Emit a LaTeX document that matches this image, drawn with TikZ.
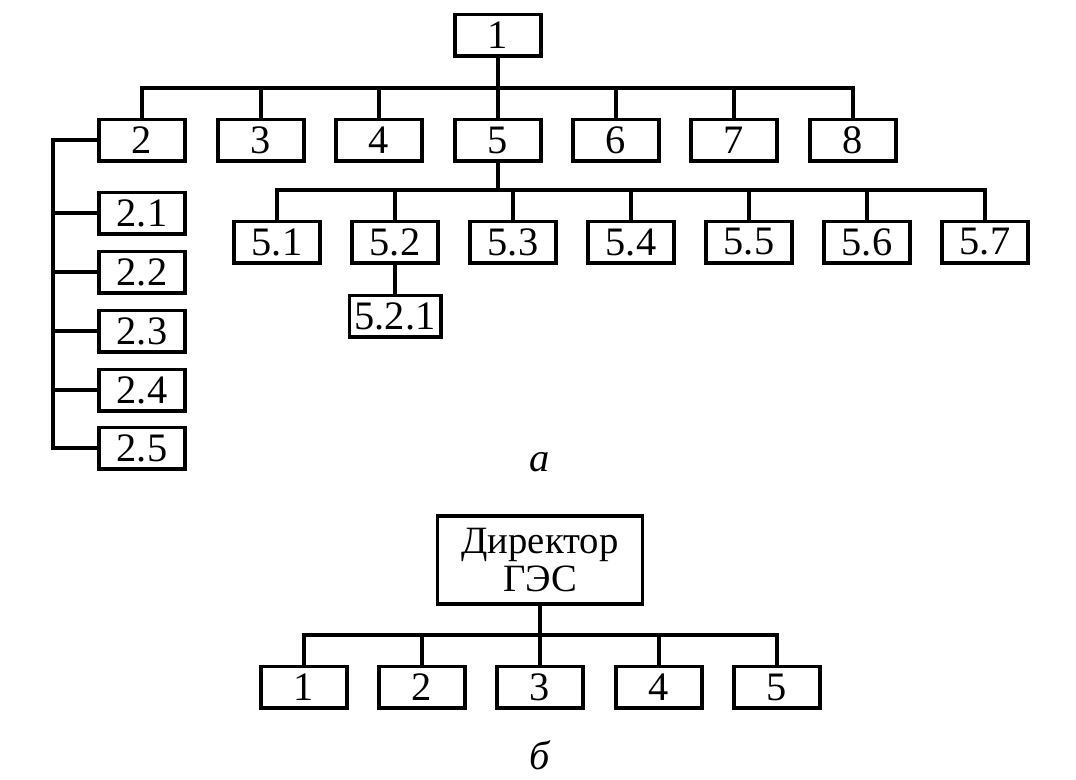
\documentclass[tikz,border=0pt]{standalone}
\usepackage{fontspec}
\setmainfont{Liberation Serif}
\tikzset{blk/.style={draw, line width=2pt, minimum width=1.73cm, minimum height=0.83cm, inner sep=0pt, font=\fontsize{23}{27}\selectfont}}
\begin{document}
\begin{tikzpicture}[x=0.02cm, y=-0.02cm, line width=2pt]
	\useasboundingbox (0,0) rectangle (1076,779);
	\node[blk] (n1) at (498,35) {1};
	\node[blk] (n2) at (142,140) {2};
	\node[blk] (n3) at (261,140) {3};
	\node[blk] (n4) at (379,140) {4};
	\node[blk] (n5) at (498,140) {5};
	\node[blk] (n6) at (616,140) {6};
	\node[blk] (n7) at (734,140) {7};
	\node[blk] (n8) at (853,140) {8};
	\node[blk] (n21) at (142,213) {2.1};
	\node[blk] (n22) at (142,272) {2.2};
	\node[blk] (n23) at (142,331) {2.3};
	\node[blk] (n24) at (142,390) {2.4};
	\node[blk] (n25) at (142,448) {2.5};
	\node[blk] (n51) at (277,242) {5.1};
	\node[blk] (n52) at (395,242) {5.2};
	\node[blk] (n53) at (513,242) {5.3};
	\node[blk] (n54) at (631,242) {5.4};
	\node[blk] (n55) at (749,242) {5.5};
	\node[blk] (n56) at (867,242) {5.6};
	\node[blk] (n57) at (985,242) {5.7};
	\node[blk, minimum width=1.83cm] (n521) at (395,316) {5.2.1};
	\node (la) at (540,462) {\fontsize{23}{27}\selectfont\textit{а}};
	\coordinate (b1) at (498,88);
	\coordinate (b5) at (498,190);
	\coordinate (c2) at (53,140);
	\draw (n1.south) -- (n5.north);
	\draw (n2.north) |- (b1) -| (n8.north);
	\draw (n3.north) -- (n3.north |- b1);
	\draw (n4.north) -- (n4.north |- b1);
	\draw (n6.north) -- (n6.north |- b1);
	\draw (n7.north) -- (n7.north |- b1);
	\draw (n5.south) -- (b5);
	\draw (n51.north) |- (b5) -| (n57.north);
	\draw (n52.north) -- (n52.north |- b5);
	\draw (n53.north) -- (n53.north |- b5);
	\draw (n54.north) -- (n54.north |- b5);
	\draw (n55.north) -- (n55.north |- b5);
	\draw (n56.north) -- (n56.north |- b5);
	\draw (n52.south) -- (n521.north);
	\draw (n2.west) -- (c2) |- (n25.west);
	\draw (n21.west) -- (n21.west -| c2);
	\draw (n22.west) -- (n22.west -| c2);
	\draw (n23.west) -- (n23.west -| c2);
	\draw (n24.west) -- (n24.west -| c2);
	\node[blk, minimum width=4.11cm, minimum height=1.77cm, align=center, font=\fontsize{22}{26}\selectfont] (d) at (540,560) {Директор\\[-4pt]ГЭС};
	\node[blk] (d1) at (304,687) {1};
	\node[blk] (d2) at (422,687) {2};
	\node[blk] (d3) at (540,687) {3};
	\node[blk] (d4) at (659,687) {4};
	\node[blk] (d5) at (777,687) {5};
	\node (lb) at (540,755) {\fontsize{23}{27}\selectfont\textit{б}};
	\coordinate (bd) at (540,635);
	\draw (d.south) -- (d3.north);
	\draw (d1.north) |- (bd) -| (d5.north);
	\draw (d2.north) -- (d2.north |- bd);
	\draw (d4.north) -- (d4.north |- bd);
\end{tikzpicture}
\end{document}
